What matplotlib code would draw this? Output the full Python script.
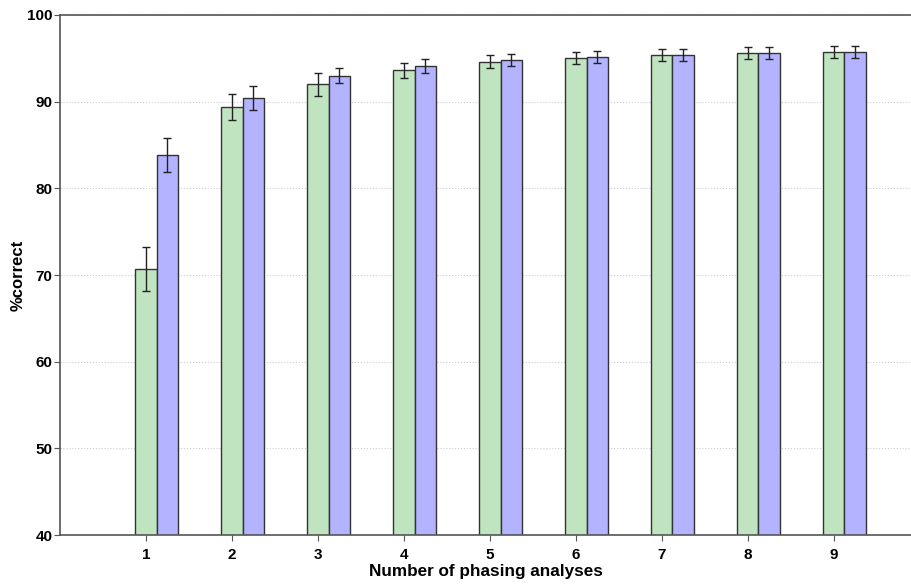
import numpy as np
from matplotlib import pyplot as plt

# number of phasing analyses
analyses = [1, 2, 3, 4, 5, 6, 7, 8, 9]
green_vals = [70.7, 89.4, 92.0, 93.6, 94.6, 95.05, 95.35, 95.6, 95.7]
green_err = [2.5, 1.5, 1.3, 0.9, 0.75, 0.7, 0.7, 0.7, 0.7]
blue_vals = [83.85, 90.4, 93.0, 94.15, 94.8, 95.15, 95.4, 95.6, 95.7]
blue_err = [2.0, 1.4, 0.9, 0.8, 0.7, 0.7, 0.7, 0.7, 0.7]

plt.rcParams['font.family'] = ['Liberation Sans', 'DejaVu Sans']

fig = plt.figure(figsize=(9.11, 5.88), dpi=100)
ax = fig.add_axes([0.0659, 0.0901, 0.9341, 0.8844])

x = np.array(analyses, dtype=float)
w = 0.25
err_kw = dict(ecolor='#222222', elinewidth=1, capsize=2.8, capthick=1)
ax.bar(x, green_vals, width=w, yerr=green_err, color='#c0e4c0',
       edgecolor='#333333', linewidth=1, error_kw=err_kw, zorder=2)
ax.bar(x + w, blue_vals, width=w, yerr=blue_err, color='#b3b3ff',
       edgecolor='#333333', linewidth=1, error_kw=err_kw, zorder=2)

ax.set_xlim(0, 9.9)
ax.set_ylim(40, 100)
ax.set_xticks(analyses)
ax.set_yticks(range(40, 101, 10))
ax.yaxis.grid(True, linestyle=':', color='#cccccc', linewidth=0.8, zorder=0)
ax.set_axisbelow(True)

for s in ['left', 'bottom', 'top']:
    ax.spines[s].set_color('#555555')
    ax.spines[s].set_linewidth(1.2)
ax.spines['right'].set_visible(False)

ax.tick_params(axis='both', direction='out', length=4, color='#555555',
               labelsize=11)
ax.tick_params(axis='y', pad=1.5)
ax.tick_params(axis='x', pad=5)
for lbl in ax.get_xticklabels() + ax.get_yticklabels():
    lbl.set_fontweight('bold')

ax.set_xlabel('Number of phasing analyses', fontsize=12.3, fontweight='bold', labelpad=2)
ax.set_ylabel('%correct', fontsize=12, fontweight='bold')
ax.yaxis.set_label_coords(-0.04, 0.5)

fig.savefig('out.png', dpi=100)
